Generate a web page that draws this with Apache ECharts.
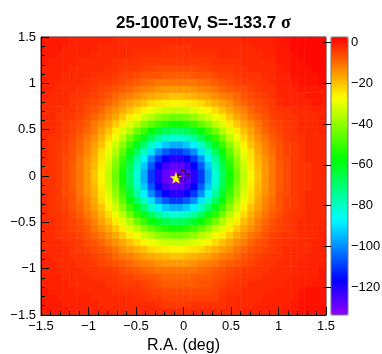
<!DOCTYPE html>
<html>
<head>
<meta charset="utf-8">
<title>25-100TeV significance map</title>
<script src="https://cdn.jsdelivr.net/npm/echarts@6/dist/echarts.min.js"></script>
<style>
    html,body{ margin:0; padding:0; background:#fff; }
    #main{ width:382px; height:354px; }
</style>
</head>
<body>
<div id="main"></div>
<script type="text/javascript">
// bin centres (deg), 0.075 deg bins
var raBins  = ['-1.4625','-1.3875','-1.3125','-1.2375','-1.1625','-1.0875','-1.0125','-0.9375','-0.8625','-0.7875',
               '-0.7125','-0.6375','-0.5625','-0.4875','-0.4125','-0.3375','-0.2625','-0.1875','-0.1125','-0.0375',
               '0.0375','0.1125','0.1875','0.2625','0.3375','0.4125','0.4875','0.5625','0.6375','0.7125',
               '0.7875','0.8625','0.9375','1.0125','1.0875','1.1625','1.2375','1.3125','1.3875','1.4625'];
var decBins = ['-1.4625','-1.3875','-1.3125','-1.2375','-1.1625','-1.0875','-1.0125','-0.9375','-0.8625','-0.7875',
               '-0.7125','-0.6375','-0.5625','-0.4875','-0.4125','-0.3375','-0.2625','-0.1875','-0.1125','-0.0375',
               '0.0375','0.1125','0.1875','0.2625','0.3375','0.4125','0.4875','0.5625','0.6375','0.7125',
               '0.7875','0.8625','0.9375','1.0125','1.0875','1.1625','1.2375','1.3125','1.3875','1.4625'];

// significance per bin; first row = Dec -1.4625 (bottom), columns follow raBins
var sigRows = [
 [0,0,0,0,-1,-1,-1,-1,-1,-1,-2,-2,-2,-2,-2,-2,-2,-2,-2, -2,-2,-2,-2,-2,-2,-2,-2,-2,-1,-1,-1,-1,-1,-1,0,0,1,1,1,1],
 [0,0,0,-1,-1,-1,-1,-1,-2,-2,-2,-2,-2,-2,-2,-2,-3,-4,-4, -4,-4,-3,-3,-3,-3,-3,-2,-2,-2,-2,-1,-1,-1,-1,-1,0,1,1,1,1],
 [0,0,-1,-1,-1,-1,-1,-2,-2,-2,-2,-2,-2,-3,-3,-4,-4,-5,-5, -5,-5,-5,-5,-5,-5,-3,-2,-2,-2,-2,-2,-1,-1,-1,-1,-1,1,1,1,1],
 [0,-1,-1,-1,-1,-2,-2,-2,-2,-2,-3,-3,-3,-3,-4,-5,-5,-6,-6, -6,-6,-6,-6,-6,-5,-4,-3,-3,-2,-2,-2,-2,-2,-1,-1,-1,0,1,1,1],
 [-1,-1,-1,-1,-2,-2,-2,-2,-2,-3,-3,-4,-4,-4,-5,-6,-7,-8,-8, -8,-8,-8,-7,-7,-6,-5,-4,-3,-3,-2,-2,-2,-2,-2,-1,-1,-1,-1,0,0],
 [-1,-1,-1,-2,-2,-2,-2,-3,-3,-3,-4,-5,-5,-6,-7,-7,-8,-9,-9, -9,-9,-8,-8,-8,-7,-6,-5,-4,-3,-3,-3,-2,-2,-2,-2,-1,-1,-1,-1,0],
 [-1,-1,-2,-2,-2,-2,-3,-3,-4,-4,-5,-6,-7,-8,-9,-10,-11,-11,-11, -11,-11,-11,-10,-9,-8,-7,-6,-5,-4,-4,-3,-3,-2,-2,-2,-2,-1,-1,-1,0],
 [-1,-1,-2,-2,-2,-3,-3,-4,-5,-6,-7,-8,-9,-11,-12,-13,-14,-15,-15, -15,-15,-14,-13,-12,-11,-9,-8,-7,-6,-5,-4,-3,-3,-2,-2,-2,-1,-1,-1,-1],
 [-1,-2,-2,-2,-3,-3,-4,-5,-6,-7,-9,-11,-12,-14,-16,-17,-18,-19,-20, -20,-19,-18,-17,-16,-14,-12,-11,-9,-7,-6,-5,-4,-3,-3,-2,-2,-2,-1,-1,-1],
 [-2,-2,-2,-2,-3,-4,-5,-6,-7,-9,-11,-14,-16,-18,-20,-23,-24,-25,-26, -26,-25,-24,-23,-20,-18,-16,-14,-11,-9,-7,-6,-5,-4,-3,-2,-2,-2,-2,-1,-1],
 [-2,-2,-2,-3,-3,-4,-6,-7,-9,-12,-14,-17,-20,-23,-26,-29,-31,-33,-34, -34,-33,-31,-29,-26,-23,-20,-17,-14,-12,-9,-7,-6,-4,-3,-3,-2,-2,-2,-1,-1],
 [-2,-2,-3,-3,-4,-5,-7,-9,-11,-14,-17,-21,-25,-29,-33,-36,-40,-42,-44, -44,-42,-40,-36,-33,-29,-25,-21,-17,-14,-11,-9,-7,-5,-4,-3,-3,-2,-2,-2,-1],
 [-2,-2,-3,-4,-5,-6,-8,-11,-14,-17,-21,-25,-31,-35,-41,-46,-50,-53,-55, -55,-53,-50,-46,-41,-35,-31,-25,-21,-17,-14,-11,-8,-6,-5,-4,-3,-2,-2,-2,-1],
 [-2,-2,-3,-4,-5,-7,-9,-12,-16,-20,-25,-31,-36,-44,-50,-57,-62,-66,-68, -68,-66,-62,-57,-50,-44,-36,-31,-25,-20,-16,-12,-9,-7,-5,-4,-3,-2,-2,-2,-1],
 [-2,-3,-3,-4,-6,-8,-11,-14,-18,-23,-29,-35,-44,-52,-60,-68,-75,-80,-82, -82,-80,-75,-68,-60,-52,-44,-35,-29,-23,-18,-14,-11,-8,-6,-4,-3,-3,-2,-2,-2],
 [-2,-3,-4,-5,-7,-9,-12,-16,-20,-26,-33,-41,-50,-60,-70,-80,-88,-93,-96, -96,-93,-88,-80,-70,-60,-50,-41,-33,-26,-20,-16,-12,-9,-7,-5,-4,-3,-2,-2,-2],
 [-2,-3,-4,-5,-7,-10,-13,-17,-23,-29,-36,-46,-57,-68,-80,-90,-100,-106,-110, -110,-106,-100,-90,-80,-68,-57,-46,-36,-29,-23,-17,-13,-10,-7,-5,-4,-3,-2,-2,-2],
 [-2,-3,-4,-6,-7,-11,-14,-18,-24,-31,-40,-50,-62,-75,-88,-100,-110,-117,-121, -121,-117,-110,-100,-88,-75,-62,-50,-40,-31,-24,-18,-14,-11,-7,-6,-4,-3,-2,-2,-2],
 [-3,-3,-4,-6,-8,-11,-15,-19,-25,-33,-42,-53,-66,-80,-93,-106,-117,-124,-128, -128,-124,-117,-106,-93,-80,-66,-53,-42,-33,-25,-19,-15,-11,-8,-6,-4,-3,-3,-2,-2],
 [-3,-3,-4,-6,-8,-11,-15,-20,-26,-34,-44,-55,-68,-82,-96,-110,-121,-128,-131, -131,-128,-121,-110,-96,-82,-68,-55,-44,-34,-26,-20,-15,-11,-8,-6,-4,-3,-3,-2,-2],
 [-3,-3,-4,-6,-8,-11,-15,-20,-26,-34,-44,-55,-68,-82,-96,-110,-121,-128,-131, -131,-128,-121,-110,-96,-82,-68,-55,-44,-34,-26,-20,-15,-11,-8,-6,-4,-3,-3,-2,-2],
 [-3,-3,-4,-6,-8,-11,-15,-19,-25,-33,-42,-53,-66,-80,-93,-106,-117,-124,-128, -128,-124,-117,-106,-93,-80,-66,-53,-42,-33,-25,-19,-15,-11,-8,-6,-4,-3,-3,-2,-2],
 [-2,-3,-4,-6,-7,-11,-14,-18,-24,-31,-40,-50,-62,-75,-88,-100,-110,-117,-121, -121,-117,-110,-100,-88,-75,-62,-50,-40,-31,-24,-18,-14,-11,-7,-6,-4,-3,-2,-2,-2],
 [-2,-3,-4,-5,-7,-10,-13,-17,-23,-29,-36,-46,-57,-68,-80,-90,-100,-106,-110, -110,-106,-100,-90,-80,-68,-57,-46,-36,-29,-23,-17,-13,-10,-7,-5,-4,-3,-2,-2,-2],
 [-2,-3,-4,-5,-7,-9,-12,-16,-20,-26,-33,-41,-50,-60,-70,-80,-88,-93,-96, -96,-93,-88,-80,-70,-60,-50,-41,-33,-26,-20,-16,-12,-9,-7,-5,-4,-3,-2,-2,-2],
 [-2,-3,-3,-4,-6,-8,-11,-14,-18,-23,-29,-35,-44,-52,-60,-68,-75,-80,-82, -82,-80,-75,-68,-60,-52,-44,-35,-29,-23,-18,-14,-11,-8,-6,-4,-3,-3,-2,-2,-2],
 [-2,-2,-3,-4,-5,-7,-9,-12,-16,-20,-25,-31,-36,-44,-50,-57,-62,-66,-68, -68,-66,-62,-57,-50,-44,-36,-31,-25,-20,-16,-12,-9,-7,-5,-4,-3,-2,-2,-2,-1],
 [-2,-2,-3,-4,-5,-6,-8,-11,-14,-17,-21,-25,-31,-35,-41,-46,-50,-53,-55, -55,-53,-50,-46,-41,-35,-31,-25,-21,-17,-14,-11,-8,-6,-5,-4,-3,-2,-2,-2,-1],
 [-2,-2,-3,-3,-4,-5,-7,-9,-11,-14,-17,-21,-25,-29,-33,-36,-40,-42,-44, -44,-42,-40,-36,-33,-29,-25,-21,-17,-14,-11,-9,-7,-5,-4,-3,-3,-2,-2,-2,-1],
 [-2,-2,-2,-3,-3,-4,-6,-7,-9,-12,-14,-17,-20,-23,-26,-29,-31,-33,-34, -34,-33,-31,-29,-26,-23,-20,-17,-14,-12,-9,-7,-6,-4,-3,-3,-2,-2,-2,-1,-1],
 [-2,-2,-2,-2,-3,-4,-5,-6,-7,-9,-11,-14,-16,-18,-20,-23,-24,-25,-26, -26,-25,-24,-23,-20,-18,-16,-14,-11,-9,-7,-6,-5,-4,-2,-1,-1,-1,-1,0,0],
 [-1,-2,-2,-2,-3,-3,-4,-5,-6,-7,-9,-11,-12,-14,-16,-17,-18,-19,-20, -20,-19,-18,-17,-16,-14,-12,-11,-9,-7,-6,-5,-4,-3,-2,-1,-1,-1,0,0,0],
 [-1,-1,-2,-2,-2,-3,-3,-4,-5,-6,-7,-8,-9,-11,-12,-13,-14,-15,-15, -15,-15,-14,-13,-12,-11,-9,-8,-7,-6,-5,-4,-3,-3,-1,-1,-1,0,0,0,0],
 [-1,-1,-2,-2,-2,-2,-3,-3,-4,-4,-5,-6,-7,-8,-9,-10,-11,-11,-11, -11,-11,-11,-10,-9,-8,-7,-6,-5,-4,-4,-3,-3,-2,-1,-1,0,1,1,1,2],
 [-1,-1,-1,-2,-2,-2,-2,-3,-3,-3,-4,-5,-5,-6,-7,-7,-7,-8,-8, -8,-8,-7,-7,-7,-6,-5,-5,-4,-3,-3,-3,-2,-2,-1,-1,1,1,1,1,2],
 [-1,-1,-1,-1,-2,-2,-2,-2,-2,-3,-3,-4,-4,-4,-5,-5,-6,-6,-6, -6,-6,-6,-5,-5,-4,-4,-4,-3,-3,-2,-2,-2,-2,-1,0,1,1,1,2,2],
 [0,-1,-1,-1,-1,-2,-2,-2,-2,-2,-3,-3,-3,-3,-4,-4,-4,-4,-4, -4,-4,-4,-4,-4,-3,-3,-3,-3,-2,-2,-2,-2,-2,0,0,1,1,2,2,2],
 [0,0,-1,-1,-1,-1,-1,-2,-2,-2,-2,-2,-2,-3,-3,-3,-3,-3,-3, -3,-3,-3,-3,-3,-3,-2,-2,-2,-2,-2,-2,-1,-1,0,0,1,2,2,2,2],
 [0,0,0,-1,-1,-1,-1,-1,-2,-2,-2,-2,-2,-2,-2,-2,-2,-3,-3, -3,-3,-2,-2,-2,-2,-2,-2,-2,-2,-2,-1,-1,-1,0,0,2,2,2,2,2],
 [0,0,0,0,-1,-1,-1,-1,-1,-1,-2,-2,-2,-2,-2,-2,-2,-2,-2, -2,-2,-2,-2,-2,-2,-2,-2,-2,-1,-1,-1,-1,-1,0,1,2,2,2,2,2]
];

var sigMin = -133.7, sigMax = 2.8;     // colour scale range
var fitPos = [-0.08, -0.02];           // fitted position (star)
var srcPos = [0.0, 0.0];               // nominal source position (open cross)

// ROOT "pretty" palette: 50 hues violet -> red, S=1, L=0.5
function hue2rgb(h){
    var f = function(n){
        var k = (n + h/30) % 12;
        return 0.5 - 0.5*Math.max(-1, Math.min(k-3, 9-k, 1));
    };
    return 'rgb(' + Math.round(255*f(0)) + ',' + Math.round(255*f(8)) + ',' + Math.round(255*f(4)) + ')';
}
var palette = [];
for(var i = 0; i < 50; i++){
    palette.push(hue2rgb(280 - (i+1)*5.6));
}

var heat = [];
for(var j = 0; j < sigRows.length; j++){
    for(var k = 0; k < sigRows[j].length; k++){
        heat.push([k, j, sigRows[j][k]]);
    }
}

var font = 'Liberation Sans';
var minus = function(v){ return String(v).replace('-', '\u2212'); };
var starPath  = 'path://M10,0 L12.35,6.76 L19.51,6.91 L13.8,11.24 L15.88,18.09 L10,14 L4.12,18.09 L6.2,11.24 L0.49,6.91 L7.65,6.76 Z';
var crossPath = 'path://M4,0 H8 V4 H12 V8 H8 V12 H4 V8 H0 V4 H4 Z';

var myChart = echarts.init(document.getElementById('main'), null, {renderer: 'canvas'});

var option = {
    animation: false,
    title: {
        text: '{b|25-100TeV, S=-133.7 }{s|\u03c3}',
        left: 111,
        top: 9,
        textStyle: {
            rich: {
                b: { fontFamily: font, fontWeight: 'bold', fontSize: 17, color: '#000' },
                s: { fontFamily: 'Liberation Serif', fontSize: 18, color: '#000' }
            }
        }
    },
    grid: [
        { left: 41, top: 37, width: 285, height: 278, outerBoundsMode: 'none' },
        { left: 41, top: 37, width: 285, height: 278, outerBoundsMode: 'none', show: true, borderColor: '#555', borderWidth: 1, z: 5 },
        { left: 331, top: 37, width: 17, height: 278, outerBoundsMode: 'none', show: true, borderColor: '#777', borderWidth: 1, z: 5 }
    ],
    visualMap: {
        type: 'continuous',
        seriesIndex: 0,
        min: sigMin,
        max: sigMax,
        inRange: { color: palette },
        left: 331,
        top: 37,
        padding: 0,
        itemWidth: 17,
        itemHeight: 278,
        calculable: false,
        hoverLink: false,
        showLabel: false
    },
    xAxis: [
        { gridIndex: 0, type: 'category', data: raBins, show: false },
        {
            gridIndex: 1, type: 'value', min: -1.5, max: 1.5, interval: 0.5, z: 10,
            axisLine: { show: true, onZero: false, lineStyle: { color: '#000', width: 1 } },
            axisTick: { inside: true, length: 8, lineStyle: { color: '#000' } },
            minorTick: { show: true, splitNumber: 5, length: 4, lineStyle: { color: '#000' } },
            splitLine: { show: false },
            axisLabel: { margin: 5, fontFamily: font, fontSize: 13, color: '#000', formatter: minus },
            name: 'R.A. (deg)', nameLocation: 'middle', nameGap: 14,
            nameTextStyle: { fontFamily: font, fontSize: 16, color: '#000' }
        },
        { gridIndex: 2, type: 'value', show: false }
    ],
    yAxis: [
        { gridIndex: 0, type: 'category', data: decBins, show: false },
        {
            gridIndex: 1, type: 'value', min: -1.5, max: 1.5, interval: 0.5, z: 10,
            axisLine: { show: true, onZero: false, lineStyle: { color: '#000', width: 1 } },
            axisTick: { inside: true, length: 8, lineStyle: { color: '#000' } },
            minorTick: { show: true, splitNumber: 5, length: 4, lineStyle: { color: '#000' } },
            splitLine: { show: false },
            axisLabel: { margin: 5, fontFamily: font, fontSize: 13, color: '#000', formatter: minus },
            name: 'Dec (deg)', nameLocation: 'middle', nameGap: 34,
            nameTextStyle: { fontFamily: font, fontSize: 16, color: '#000' }
        },
        {
            gridIndex: 2, type: 'value', min: sigMin, max: sigMax, splitNumber: 7, position: 'right', z: 10,
            axisLine: { show: false },
            axisTick: { inside: true, length: 8, lineStyle: { color: '#000' } },
            splitLine: { show: false },
            axisLabel: { margin: 3, showMinLabel: false, showMaxLabel: false, fontFamily: font, fontSize: 13, color: '#000', formatter: minus }
        }
    ],
    series: [
        {
            type: 'heatmap', xAxisIndex: 0, yAxisIndex: 0, data: heat,
            itemStyle: { borderWidth: 0 },
            emphasis: { disabled: true }
        },
        {
            type: 'scatter', xAxisIndex: 1, yAxisIndex: 1, data: [fitPos],
            symbol: starPath, symbolSize: 12, z: 6,
            itemStyle: { color: '#ffff00', opacity: 1 }
        },
        {
            type: 'scatter', xAxisIndex: 1, yAxisIndex: 1, data: [srcPos],
            symbol: crossPath, symbolSize: 11, z: 7,
            itemStyle: { color: 'rgba(0,0,0,0)', borderColor: '#1a0030', borderWidth: 1, opacity: 1 }
        }
    ]
};

myChart.setOption(option);
</script>
</body>
</html>
